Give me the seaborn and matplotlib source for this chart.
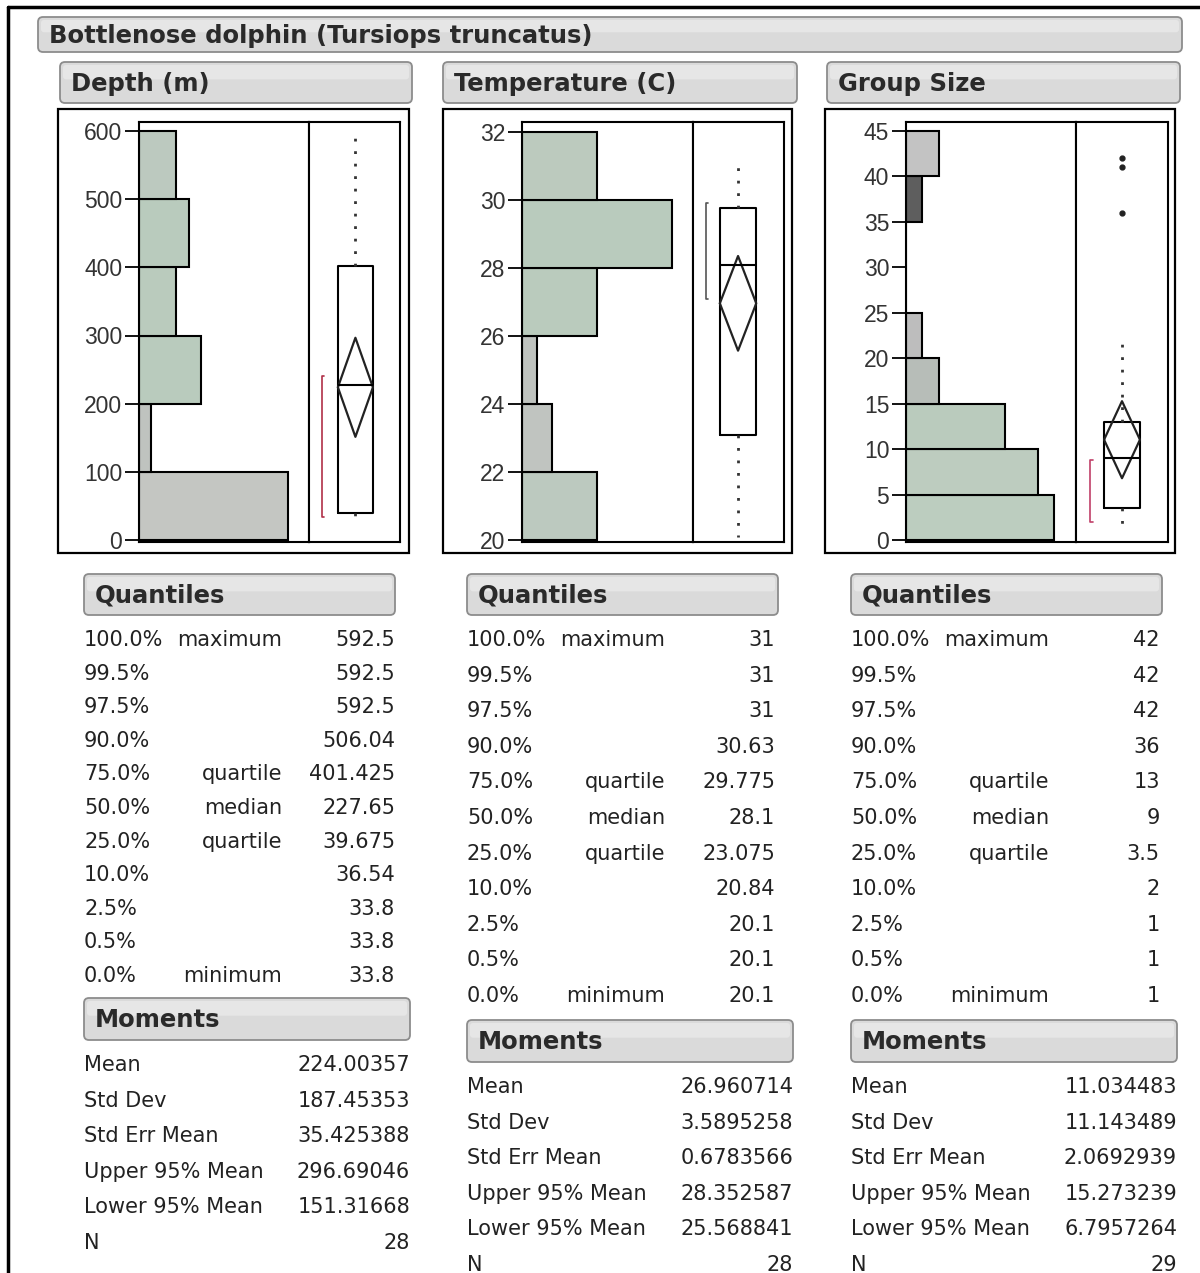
import numpy as np
import pandas as pd
import seaborn as sns
import matplotlib
matplotlib.use("Agg")
import matplotlib.pyplot as plt
from matplotlib.patches import FancyBboxPatch, Rectangle
from matplotlib.transforms import Affine2D

# ---------------- data ----------------
title = "Bottlenose dolphin (Tursiops truncatus)"
var_names = ["Depth (m)", "Temperature (C)", "Group Size"]

depth_edges = [0, 100, 200, 300, 400, 500, 600]
depth_counts = [12, 1, 5, 3, 4, 3]
temp_edges = [20, 22, 24, 26, 28, 30, 32]
temp_counts = [5, 2, 1, 5, 10, 5]
group_edges = [0, 5, 10, 15, 20, 25, 30, 35, 40, 45]
group_counts = [9, 8, 6, 2, 1, 0, 0, 1, 2]

depth_ticks = [0, 100, 200, 300, 400, 500, 600]
temp_ticks = [20, 22, 24, 26, 28, 30, 32]
group_ticks = [0, 5, 10, 15, 20, 25, 30, 35, 40, 45]

quantile_levels = ["100.0%", "99.5%", "97.5%", "90.0%", "75.0%", "50.0%",
                   "25.0%", "10.0%", "2.5%", "0.5%", "0.0%"]
quantile_names = ["maximum", "", "", "", "quartile", "median", "quartile",
                  "", "", "", "minimum"]
depth_quantiles = [592.5, 592.5, 592.5, 506.04, 401.425, 227.65, 39.675, 36.54, 33.8, 33.8, 33.8]
temp_quantiles = [31, 31, 31, 30.63, 29.775, 28.1, 23.075, 20.84, 20.1, 20.1, 20.1]
group_quantiles = [42, 42, 42, 36, 13, 9, 3.5, 2, 1, 1, 1]

moment_names = ["Mean", "Std Dev", "Std Err Mean", "Upper 95% Mean", "Lower 95% Mean", "N"]
depth_moments = [224.00357, 187.45353, 35.425388, 296.69046, 151.31668, 28]
temp_moments = [26.960714, 3.5895258, 0.6783566, 28.352587, 25.568841, 28]
group_moments = [11.034483, 11.143489, 2.0692939, 15.273239, 6.7957264, 29]

depth_whiskers = [33.8, 592.5]
temp_whiskers = [20.1, 31]
group_whiskers = [1, 22]
depth_outliers = []
temp_outliers = []
group_outliers = [36, 41, 42]
depth_shortest_half = [33.8, 240]
temp_shortest_half = [27.1, 29.9]
group_shortest_half = [2, 8.8]

# ---------------- styling / layout ----------------
W, H = 1200, 1273
sns.set_theme(style="white")
plt.rcParams["font.family"] = ["DejaVu Sans"]

fig = plt.figure(figsize=(W / 100, H / 100), dpi=100)
fig.patch.set_facecolor("white")
PX = Affine2D().scale(1 / 100, -1 / 100).translate(0, H / 100) + fig.dpi_scale_trans


def frac(x0, y0, x1, y1):
    return [x0 / W, 1 - y1 / H, (x1 - x0) / W, (y1 - y0) / H]


def header(x0, y0, x1, y1, text, fs):
    p = FancyBboxPatch((x0, y0), x1 - x0, y1 - y0,
                       boxstyle="round,pad=0,rounding_size=5",
                       transform=PX, facecolor="#dadada", edgecolor="#8c8c8c", lw=1.3)
    fig.add_artist(p)
    hl = FancyBboxPatch((x0 + 3, y0 + 3), x1 - x0 - 6, (y1 - y0) * 0.35,
                        boxstyle="round,pad=0,rounding_size=3",
                        transform=PX, facecolor="#e6e6e6", edgecolor="none")
    fig.add_artist(hl)
    fig.text(x0 + 11, (y0 + y1) / 2 + 1, text, transform=PX, fontsize=fs,
             fontweight="bold", color="#2a2a2a", va="center", ha="left")


def fmt(v):
    if isinstance(v, int):
        return str(v)
    if float(v).is_integer():
        return str(int(v))
    return str(v)


# outer frame lines of the screenshot
fig.add_artist(plt.Line2D([8, 1200], [7, 7], transform=PX, color="black", lw=2.5))
fig.add_artist(plt.Line2D([8, 8], [7, 1273], transform=PX, color="black", lw=2.5))

header(38, 17, 1182, 52, title, 17.5)

panels = [
    dict(name=var_names[0], edges=depth_edges, counts=depth_counts, ticks=depth_ticks,
         quant=depth_quantiles, mom=depth_moments, whis=depth_whiskers, out=depth_outliers,
         half=depth_shortest_half,
         outer=(58, 109, 409, 553), inner=(139, 122, 400, 542), div=309,
         v0=(0, 540), v1=(600, 131), xmax=13.7, box_c=0.51, box_w=0.385, half_x=0.14,
         half_col="#b03048",
         colors=["#c4c6c2", "#bfc3bf", "#b9cbbd", "#bacbbd", "#b9cbbd", "#bcc9bf"],
         hdr=(60, 62, 412, 103), qh=(84, 574, 395, 615), q0=640, qstep=33.6,
         lab_x=84, mid_x=282, val_x=395, mh=(84, 998, 410, 1040), m0=1065, mval_x=410),
    dict(name=var_names[1], edges=temp_edges, counts=temp_counts, ticks=temp_ticks,
         quant=temp_quantiles, mom=temp_moments, whis=temp_whiskers, out=temp_outliers,
         half=temp_shortest_half,
         outer=(443, 109, 792, 553), inner=(522, 122, 784, 542), div=693,
         v0=(20, 540), v1=(32, 132), xmax=11.4, box_c=0.495, box_w=0.40, half_x=0.14,
         half_col="#555555",
         colors=["#bcc9bf", "#c0c4c0", "#bfc3bf", "#bacbbd", "#b9cbbd", "#bccabe"],
         hdr=(443, 62, 797, 103), qh=(467, 574, 778, 615), q0=640, qstep=35.6,
         lab_x=467, mid_x=665, val_x=775, mh=(467, 1020, 793, 1062), m0=1087, mval_x=793),
    dict(name=var_names[2], edges=group_edges, counts=group_counts, ticks=group_ticks,
         quant=group_quantiles, mom=group_moments, whis=group_whiskers, out=group_outliers,
         half=group_shortest_half,
         outer=(825, 109, 1175, 553), inner=(906, 122, 1168, 542), div=1076,
         v0=(0, 540), v1=(45, 131), xmax=10.34, box_c=0.50, box_w=0.39, half_x=0.15,
         half_col="#c04068",
         colors=["#bccdbf", "#bdccbf", "#bacbbd", "#b7bdb8", "#bdbdbd", "#bdbdbd",
                 "#bdbdbd", "#5e5e5e", "#c3c3c3"],
         hdr=(827, 62, 1180, 103), qh=(851, 574, 1162, 615), q0=640, qstep=35.6,
         lab_x=851, mid_x=1049, val_x=1160, mh=(851, 1020, 1177, 1062), m0=1087, mval_x=1177),
]

for p in panels:
    header(*p["hdr"], p["name"], 17.5)
    ox0, oy0, ox1, oy1 = p["outer"]
    fig.add_artist(Rectangle((ox0, oy0), ox1 - ox0, oy1 - oy0, transform=PX,
                             fill=False, edgecolor="black", lw=1.6))
    ix0, iy0, ix1, iy1 = p["inner"]
    (va, pa), (vb, pb) = p["v0"], p["v1"]
    ppu = (pa - pb) / (vb - va)
    ylo = va - (iy1 - pa) / ppu
    yhi = vb + (pb - iy0) / ppu

    # histogram
    axh = fig.add_axes(frac(ix0, iy0, p["div"], iy1))
    edges = [float(e) for e in p["edges"]]
    centers = [(a + b) / 2 for a, b in zip(edges[:-1], edges[1:])]
    df = pd.DataFrame({"center": centers, "count": [float(c) for c in p["counts"]]})
    sns.histplot(data=df, y="center", weights="count", bins=edges, ax=axh,
                 stat="count", element="bars", fill=True, edgecolor="black",
                 linewidth=1.5, alpha=1)
    for patch, c in zip(axh.patches, p["colors"]):
        patch.set_facecolor(c)
        patch.set_alpha(1)
    axh.set_ylim(ylo, yhi)
    axh.set_xlim(0, p["xmax"])
    axh.set_yticks(p["ticks"])
    axh.set_yticklabels([str(t) for t in p["ticks"]], family="Liberation Sans",
                        fontsize=16.5, color="#333333")
    axh.set_xticks([])
    axh.set_xlabel("")
    axh.set_ylabel("")
    axh.tick_params(axis="y", left=True, length=10, width=1.3, direction="out",
                    color="black", pad=2)
    for s in axh.spines.values():
        s.set_visible(True)
        s.set_color("black")
        s.set_linewidth(1.5)
    axh.set_facecolor("white")

    # box plot panel
    axb = fig.add_axes(frac(p["div"], iy0, ix1, iy1))
    axb.set_ylim(ylo, yhi)
    axb.set_xlim(0, 1)
    q = p["quant"]
    stats = [dict(med=q[5], q1=q[6], q3=q[4], whislo=p["whis"][0], whishi=p["whis"][1],
                  fliers=p["out"])]
    axb.bxp(stats, positions=[p["box_c"]], widths=p["box_w"], showcaps=False,
            showfliers=True, manage_ticks=False,
            boxprops=dict(color="black", lw=1.5),
            medianprops=dict(color="black", lw=1.5),
            whiskerprops=dict(color="#333333", lw=2.0, linestyle=(0, (1, 3.5))),
            flierprops=dict(marker="o", markersize=3.5, markerfacecolor="#222222",
                            markeredgecolor="#222222", linestyle="none"))
    mean, upper, lower = p["mom"][0], p["mom"][3], p["mom"][4]
    c, w = p["box_c"], p["box_w"]
    axb.plot([c - w / 2, c, c + w / 2, c, c - w / 2],
             [mean, upper, mean, lower, mean], color="#222222", lw=1.6)
    hx = p["half_x"]
    lo, hi = p["half"]
    axb.plot([hx + 0.03, hx, hx, hx + 0.03], [hi, hi, lo, lo],
             color=p["half_col"], lw=1.2)
    axb.set_xticks([])
    axb.set_yticks([])
    for s in axb.spines.values():
        s.set_visible(True)
        s.set_color("black")
        s.set_linewidth(1.5)
    axb.set_facecolor("white")

    # quantiles table
    header(*p["qh"], "Quantiles", 17.5)
    tkw = dict(transform=PX, fontsize=15, color="#222222", va="center")
    for i, (lvl, nm, v) in enumerate(zip(quantile_levels, quantile_names, q)):
        y = p["q0"] + i * p["qstep"]
        fig.text(p["lab_x"], y, lvl, ha="left", **tkw)
        if nm:
            fig.text(p["mid_x"], y, nm, ha="right", **tkw)
        fig.text(p["val_x"], y, fmt(v), ha="right", **tkw)

    # moments table
    header(*p["mh"], "Moments", 17.5)
    for i, (nm, v) in enumerate(zip(moment_names, p["mom"])):
        y = p["m0"] + i * 35.6
        fig.text(p["lab_x"], y, nm, ha="left", **tkw)
        fig.text(p["mval_x"], y, fmt(v), ha="right", **tkw)

fig.savefig("out.png", dpi=100, facecolor="white")
